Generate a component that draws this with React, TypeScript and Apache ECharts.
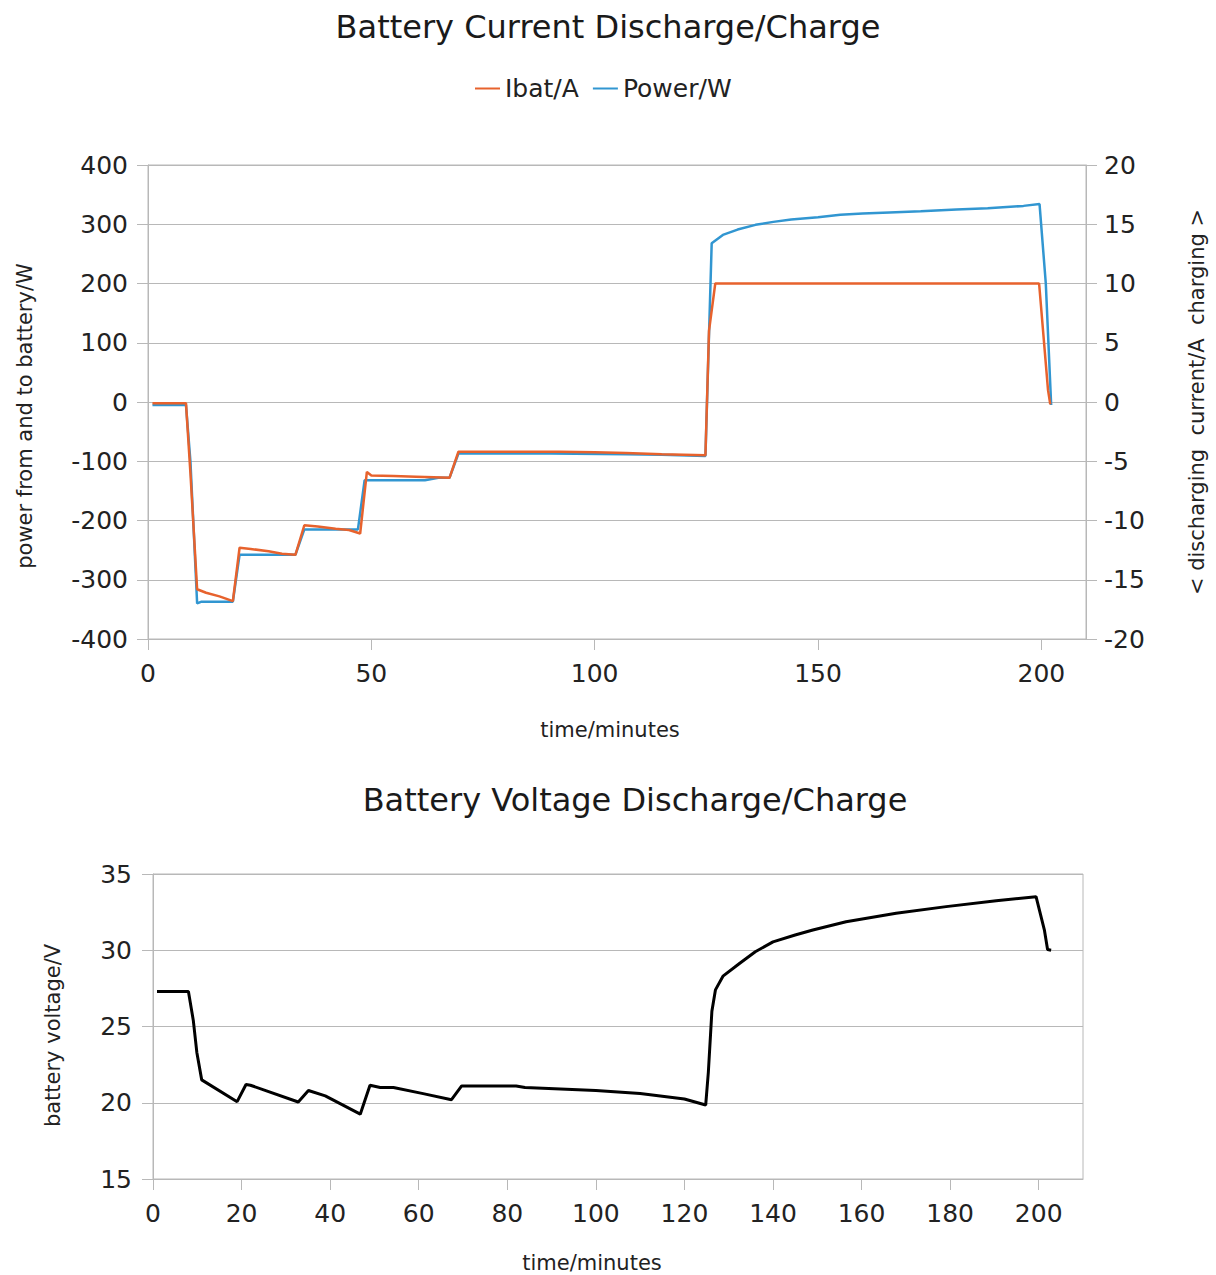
import React, { useEffect, useRef } from "react";
import * as echarts from "echarts";

// ---- Data ----
const powerTime = [1, 8.5, 9.5, 11, 12, 16, 19, 20.5, 27, 33, 35, 41, 47, 48.5, 55, 62, 65, 67.5, 69.5, 80, 90, 107, 115, 124.8, 126.2, 128.7, 132, 136, 140, 144, 150, 155, 160, 166, 173, 181, 188, 196, 199.6, 201, 202.2];
const powerWatts = [-5, -5, -100, -340, -337, -337, -337, -258, -258, -258, -215, -215, -215, -132, -132, -132, -128, -128, -87, -87, -87, -88, -89, -91, 268, 282, 291, 299, 304, 308, 312, 316, 318, 320, 322, 325, 327, 331, 334, 200, -5];

const ibatTime = [1, 8.5, 9.5, 11, 13, 16, 19, 20.5, 23, 27, 30, 33, 35, 38, 42, 45, 47.5, 49, 50, 55, 60, 64, 67.5, 69.5, 80, 92, 100, 107, 115, 124.8, 125.6, 127, 199.5, 201.5, 202];
const ibatAmps = [-0.1, -0.1, -6, -15.8, -16.1, -16.4, -16.8, -12.3, -12.4, -12.6, -12.8, -12.9, -10.4, -10.5, -10.7, -10.8, -11.1, -5.9, -6.2, -6.25, -6.3, -6.35, -6.4, -4.2, -4.2, -4.2, -4.25, -4.3, -4.4, -4.5, 6, 10, 10, 1, -0.2];

const voltTime = [0.9, 8, 9.1, 9.9, 11, 19, 21, 22, 32.8, 35.1, 38.9, 46.8, 49, 51.3, 54.3, 61, 67.4, 69.7, 82, 84, 100, 110, 120, 124.8, 125.4, 126.2, 127, 128.7, 132.5, 136, 140, 145, 149, 156.5, 167.8, 179.1, 190.4, 199.4, 201.3, 202, 202.8];
const voltValues = [27.3, 27.3, 25.4, 23.3, 21.5, 20.07, 21.2, 21.15, 20.05, 20.8, 20.45, 19.25, 21.15, 21.0, 21.0, 20.6, 20.2, 21.1, 21.1, 21.0, 20.8, 20.6, 20.25, 19.85, 22.0, 26.0, 27.4, 28.3, 29.15, 29.9, 30.55, 31.0, 31.33, 31.87, 32.42, 32.86, 33.25, 33.51, 31.3, 30.05, 30.0];

const topXTicks = [0, 50, 100, 150, 200];
const bottomXTicks = [0, 20, 40, 60, 80, 100, 120, 140, 160, 180, 200];

const zip = (xs: number[], ys: number[]) => xs.map((x, i) => [x, ys[i]]);

const FONT = "DejaVu Sans";
const TEXT = "#222";
const LINE = "#b8b8b8";

export default function App() {
  const ref = useRef<HTMLDivElement>(null);
  useEffect(() => {
    if (!ref.current) return;
    const chart = echarts.init(ref.current, undefined, { renderer: "svg" });
    const axisCommon = {
      axisLine: { show: true, onZero: false, lineStyle: { color: LINE, width: 1 } },
      axisTick: { show: true, length: 11, lineStyle: { color: LINE } },
      axisLabel: { color: TEXT, fontSize: 25, fontFamily: FONT },
      nameTextStyle: { color: TEXT, fontSize: 21, fontFamily: FONT },
    };
    chart.setOption({
      animation: false,
      backgroundColor: "#fff",
      textStyle: { fontFamily: FONT },
      title: [
        {
          text: "Battery Current Discharge/Charge",
          left: 603,
          top: 6,
          textAlign: "center",
          textStyle: { fontSize: 32, fontWeight: "normal", color: "#1a1a1a", fontFamily: FONT },
        },
        {
          text: "Battery Voltage Discharge/Charge",
          left: 630,
          top: 779,
          textAlign: "center",
          textStyle: { fontSize: 32, fontWeight: "normal", color: "#1a1a1a", fontFamily: FONT },
        },
      ],
      legend: {
        data: ["Ibat/A", "Power/W"],
        left: 470,
        top: 71,
        icon: "rect",
        itemWidth: 25,
        itemHeight: 2,
        itemGap: 14,
        textStyle: { fontSize: 25, color: TEXT, fontFamily: FONT },
      },
      grid: [
        { left: 148, right: 130, top: 165, bottom: 636, show: true, borderColor: LINE, borderWidth: 1 },
        { left: 153, right: 133, top: 874, bottom: 96, show: true, borderColor: LINE, borderWidth: 1 },
      ],
      xAxis: [
        {
          ...axisCommon,
          gridIndex: 0,
          type: "value",
          min: 0,
          max: 210,
          interval: 50,
          splitLine: { show: false },
          axisTick: { ...axisCommon.axisTick, customValues: topXTicks },
          axisLabel: { ...axisCommon.axisLabel, margin: 22, customValues: topXTicks },
          name: "time/minutes",
          nameLocation: "middle",
          nameGap: 80,
          nameTextStyle: { ...axisCommon.nameTextStyle, padding: [0, 14, 0, 0] },
        },
        {
          ...axisCommon,
          gridIndex: 1,
          type: "value",
          min: 0,
          max: 210,
          interval: 20,
          splitLine: { show: false },
          axisTick: { ...axisCommon.axisTick, customValues: bottomXTicks },
          axisLabel: { ...axisCommon.axisLabel, margin: 22, customValues: bottomXTicks },
          name: "time/minutes",
          nameLocation: "middle",
          nameGap: 73,
          nameTextStyle: { ...axisCommon.nameTextStyle, padding: [0, 52, 0, 0] },
        },
      ],
      yAxis: [
        {
          ...axisCommon,
          gridIndex: 0,
          type: "value",
          min: -400,
          max: 400,
          interval: 100,
          position: "left",
          splitLine: { show: true, lineStyle: { color: LINE, width: 1 } },
          axisLabel: { ...axisCommon.axisLabel, margin: 20 },
          name: "power from and to battery/W",
          nameLocation: "middle",
          nameGap: 113,
          nameTextStyle: { ...axisCommon.nameTextStyle, padding: [0, 28, 0, 0] },
        },
        {
          ...axisCommon,
          gridIndex: 0,
          type: "value",
          min: -20,
          max: 20,
          interval: 5,
          position: "right",
          splitLine: { show: false },
          axisLabel: { ...axisCommon.axisLabel, margin: 18 },
          name: "< discharging  current/A  charging >",
          nameLocation: "middle",
          nameGap: 100,
        },
        {
          ...axisCommon,
          gridIndex: 1,
          type: "value",
          min: 15,
          max: 35,
          interval: 5,
          position: "left",
          splitLine: { show: true, lineStyle: { color: LINE, width: 1 } },
          axisLabel: { ...axisCommon.axisLabel, margin: 21 },
          name: "battery voltage/V",
          nameLocation: "middle",
          nameGap: 90,
          nameTextStyle: { ...axisCommon.nameTextStyle, padding: [0, 18, 0, 0] },
        },
      ],
      series: [
        {
          name: "Power/W",
          type: "line",
          xAxisIndex: 0,
          yAxisIndex: 0,
          data: zip(powerTime, powerWatts),
          symbol: "none",
          color: "#3196d1",
          lineStyle: { width: 2.5, color: "#3196d1" },
        },
        {
          name: "Ibat/A",
          type: "line",
          xAxisIndex: 0,
          yAxisIndex: 1,
          data: zip(ibatTime, ibatAmps),
          symbol: "none",
          color: "#e7622d",
          lineStyle: { width: 2.5, color: "#e7622d" },
        },
        {
          name: "Voltage",
          type: "line",
          xAxisIndex: 1,
          yAxisIndex: 2,
          data: zip(voltTime, voltValues),
          symbol: "none",
          color: "#000",
          lineStyle: { width: 3, color: "#000" },
        },
      ],
    });
    return () => chart.dispose();
  }, []);
  return (
    <div
      ref={ref}
      style={{ position: "fixed", left: 0, top: 0, width: 1216, height: 1275, background: "#fff" }}
    />
  );
}
